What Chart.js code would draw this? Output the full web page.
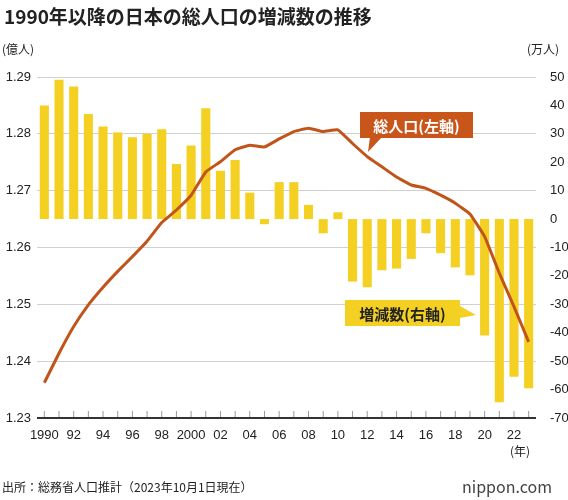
<!DOCTYPE html>
<html><head><meta charset="utf-8">
<script src="https://cdn.jsdelivr.net/npm/chart.js@4"></script>
<style>
body{margin:0;background:#fff;font-family:"Noto Sans CJK JP","Noto Sans",sans-serif;}
#wrap{position:relative;width:568px;height:500px;}
.t{position:absolute;white-space:nowrap;color:#222;}
</style></head><body>
<div id="wrap">
<canvas id="c" width="568" height="500"></canvas>
<div class="t" style="left:4px;top:2px;font-size:19px;font-weight:bold;">1990年以降の日本の総人口の増減数の推移</div>
<div class="t" style="left:2px;top:40px;font-size:12px;">(億人)</div>
<div class="t" style="left:527px;top:40px;font-size:12px;">(万人)</div>
<div class="t" style="left:510px;top:442px;font-size:12px;">(年)</div>
<div class="t" style="left:2px;top:478px;font-size:12px;">出所：総務省人口推計（2023年10月1日現在）</div>
<div class="t" style="left:462px;top:474px;font-size:16px;color:#444;">nippon.com</div>
</div>
<script>
const years = ["1990","1991","1992","1993","1994","1995","1996","1997","1998","1999","2000","2001","2002","2003","2004","2005","2006","2007","2008","2009","2010","2011","2012","2013","2014","2015","2016","2017","2018","2019","2020","2021","2022","2023"];
const change = [40,49,46.7,37,32.6,30.5,28.8,30,31.6,19.4,25.9,39,17,20.8,9.3,-1.8,13,13,5,-5,2.4,-22,-24,-18,-17.4,-14,-5,-12,-17,-19.8,-41,-64.5,-55.5,-59.5];
const population = [1.2362,1.2414,1.2461,1.2499,1.2530,1.2558,1.2584,1.2611,1.2644,1.2666,1.2692,1.2733,1.2751,1.2772,1.2780,1.2777,1.2791,1.2804,1.2810,1.2804,1.2807,1.2783,1.2760,1.2742,1.2724,1.2710,1.2704,1.2692,1.2678,1.2659,1.2619,1.2555,1.2496,1.2434];
const xLabels = {"1990":"1990","1992":"92","1994":"94","1996":"96","1998":"98","2000":"2000","2002":"02","2004":"04","2006":"06","2008":"08","2010":"10","2012":"12","2014":"14","2016":"16","2018":"18","2020":"20","2022":"22"};

const deco = {
  id:'deco',
  afterDatasetsDraw(ch){
    const {ctx, scales:{x}} = ch;
    const b = ch.chartArea.bottom;
    ctx.save();
    ctx.strokeStyle='#999';ctx.lineWidth=1;
    years.forEach((_,i)=>{const px=x.getPixelForValue(i);ctx.beginPath();ctx.moveTo(px,b-7);ctx.lineTo(px,b);ctx.stroke();});
    ctx.strokeStyle='#333';ctx.lineWidth=2;
    ctx.beginPath();ctx.moveTo(ch.chartArea.left,b);ctx.lineTo(ch.chartArea.right,b);ctx.stroke();
    const box=(x0,y0,w,h,bg,fg,txt,tip)=>{
      ctx.fillStyle=bg;ctx.beginPath();ctx.rect(x0,y0,w,h);ctx.fill();
      ctx.beginPath();ctx.moveTo(tip[0],tip[1]);ctx.lineTo(tip[2],tip[3]);ctx.lineTo(tip[4],tip[5]);ctx.closePath();ctx.fill();
      ctx.fillStyle=fg;ctx.font='bold 15px "Noto Sans CJK JP"';ctx.textBaseline='middle';ctx.textAlign='center';
      ctx.fillText(txt,x0+w/2,y0+h/2+1);
    };
    box(360,112,113,26,'#c8561b','#fff','総人口(左軸)',[370,137,368,152,382,137]);
    box(345,300,115,26,'#f4d023','#222','増減数(右軸)',[460,306,476,315,460,318]);
    ctx.restore();
  }
};

new Chart(document.getElementById('c'),{
  data:{labels:years,datasets:[
    {type:'line',data:population,yAxisID:'yL',borderColor:'#c0541a',borderWidth:3,pointRadius:0,tension:0.1,order:0},
    {type:'bar',data:change,yAxisID:'yR',backgroundColor:'#f4d023',barPercentage:0.62,categoryPercentage:1,order:1}
  ]},
  options:{responsive:false,animation:false,
    layout:{padding:{top:77,bottom:52,left:0,right:0}},
    plugins:{legend:{display:false},tooltip:{enabled:false}},
    scales:{
      x:{offset:true,grid:{display:false},border:{display:false},
        afterFit(s){s.height=30;},
        ticks:{autoSkip:false,maxRotation:0,color:'#222',font:{size:13,family:'Liberation Sans'},padding:2,
          callback(v){return xLabels[years[v]]||'';}}},
      yL:{position:'left',min:1.23,max:1.29,
        afterFit(s){s.width=37;},
        ticks:{stepSize:0.01,color:'#222',font:{size:13,family:'Liberation Sans'},callback:v=>v.toFixed(2),padding:6},
        grid:{color:'#d0d0d0',drawTicks:false},border:{display:false}},
      yR:{position:'right',min:-70,max:50,
        afterFit(s){s.width=32;},
        ticks:{stepSize:10,color:'#222',font:{size:13,family:'Liberation Sans'},padding:6},
        grid:{display:false},border:{display:false}}
    }},
  plugins:[deco]
});
</script></body></html>
